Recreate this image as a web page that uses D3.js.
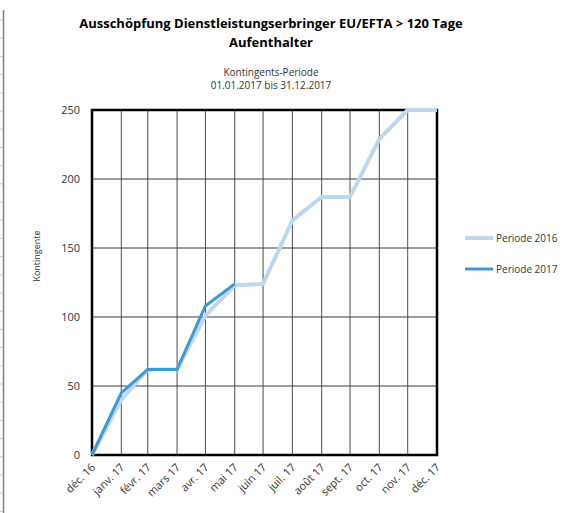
<!DOCTYPE html>
<html>
<head>
<meta charset="utf-8">
<script src="https://cdn.jsdelivr.net/npm/d3@7"></script>
<style>
  body { margin: 0; background: #fff; }
  text { font-family: "Open Sans", "Noto Sans", sans-serif; }
</style>
</head>
<body>
<script>
// month-end dates, déc. 16 .. déc. 17
const months = ["2016-12-31", "2017-01-31", "2017-02-28", "2017-03-31", "2017-04-30", "2017-05-31",
    "2017-06-30", "2017-07-31", "2017-08-31", "2017-09-30", "2017-10-31", "2017-11-30", "2017-12-31"];
const monthLabels = ["déc. 16", "janv. 17", "févr. 17", "mars 17", "avr. 17", "mai 17", "juin 17",
    "juil. 17", "août 17", "sept. 17", "oct. 17", "nov. 17", "déc. 17"];
const periode2016 = [0, 40, 62, 62, 101, 123, 124, 170, 187, 187, 229, 250, 250];
const periode2017 = [0, 45, 62, 62, 108, 124];
const yTicks = [0, 50, 100, 150, 200, 250];
const seriesNames = ["Periode 2016", "Periode 2017"];
const seriesColors = ["#bdd7ee", "#3c99d8"];

const width = 586, height = 513;
const parse = d3.timeParse("%Y-%m-%d");
const dates = months.map(parse);

const svg = d3.select("body").append("svg")
    .attr("width", width)
    .attr("height", height);

// left frame edge of the screenshot
svg.append("line")
    .attr("x1", 3.5).attr("x2", 3.5)
    .attr("y1", 10).attr("y2", height)
    .attr("stroke", "#808080").attr("stroke-width", 1.5);
svg.selectAll(".edge-tick")
    .data(d3.range(20, height, 18.2))
    .enter().append("line")
    .attr("x1", 0).attr("x2", 3)
    .attr("y1", d => d).attr("y2", d => d)
    .attr("stroke", "#c8c8c8");

const x = d3.scaleTime()
    .domain(d3.extent(dates))
    .range([92, 437]);

const y = d3.scaleLinear()
    .domain([0, 250])
    .range([455, 110]);

// titles
svg.append("text")
    .attr("x", 271).attr("y", 28)
    .attr("text-anchor", "middle")
    .style("font-size", "13px").style("font-weight", "bold").style("fill", "#000")
    .text("Ausschöpfung Dienstleistungserbringer EU/EFTA > 120 Tage");
svg.append("text")
    .attr("x", 271).attr("y", 47)
    .attr("text-anchor", "middle")
    .style("font-size", "13px").style("font-weight", "bold").style("fill", "#000")
    .text("Aufenthalter");
svg.append("text")
    .attr("x", 271).attr("y", 76)
    .attr("text-anchor", "middle")
    .style("font-size", "10px").style("fill", "#333")
    .text("Kontingents-Periode");
svg.append("text")
    .attr("x", 271).attr("y", 89)
    .attr("text-anchor", "middle")
    .style("font-size", "10px").style("fill", "#333")
    .text("01.01.2017 bis 31.12.2017");

// grid
svg.append("g")
    .selectAll("line")
    .data(yTicks)
    .enter().append("line")
    .attr("x1", x.range()[0]).attr("x2", x.range()[1])
    .attr("y1", d => y(d)).attr("y2", d => y(d))
    .attr("stroke", "#3a3a3a").attr("stroke-width", 1);

svg.append("g")
    .selectAll("line")
    .data(dates)
    .enter().append("line")
    .attr("x1", d => x(d)).attr("x2", d => x(d))
    .attr("y1", y(0)).attr("y2", y(250))
    .attr("stroke", "#4a4a4a").attr("stroke-width", 1);

// y tick labels
svg.append("g")
    .selectAll("text")
    .data(yTicks)
    .enter().append("text")
    .attr("x", 80)
    .attr("y", d => y(d))
    .attr("dy", "0.35em")
    .attr("text-anchor", "end")
    .style("font-size", "11px").style("fill", "#333")
    .text(d => d);

// x tick labels
svg.append("g")
    .selectAll("text")
    .data(dates)
    .enter().append("text")
    .attr("transform", d => `translate(${x(d) + 4},${y(0) + 13}) rotate(-45)`)
    .attr("text-anchor", "end")
    .style("font-size", "11px").style("fill", "#333")
    .text((d, i) => monthLabels[i]);

// y axis title
svg.append("text")
    .attr("transform", "translate(40,256) rotate(-90)")
    .attr("text-anchor", "middle")
    .style("font-size", "9px").style("fill", "#333")
    .text("Kontingente");

// frame
svg.append("rect")
    .attr("x", x.range()[0]).attr("y", y(250))
    .attr("width", x.range()[1] - x.range()[0])
    .attr("height", y(0) - y(250))
    .attr("fill", "none")
    .attr("stroke", "#000").attr("stroke-width", 2.5);

// lines
const line = d3.line()
    .x((d, i) => x(dates[i]))
    .y(d => y(d));

svg.append("path")
    .datum(periode2016)
    .attr("d", line)
    .attr("fill", "none")
    .attr("stroke", seriesColors[0])
    .attr("stroke-width", 4)
    .attr("stroke-linejoin", "round");

svg.append("path")
    .datum(periode2017)
    .attr("d", line)
    .attr("fill", "none")
    .attr("stroke", seriesColors[1])
    .attr("stroke-width", 3)
    .attr("stroke-linejoin", "round");

// legend
const legend = svg.append("g")
    .selectAll("g")
    .data(seriesNames)
    .enter().append("g")
    .attr("transform", (d, i) => `translate(465,${238 + i * 31})`);

legend.append("line")
    .attr("x1", 0).attr("x2", 28)
    .attr("stroke", (d, i) => seriesColors[i])
    .attr("stroke-width", (d, i) => i === 0 ? 4 : 3);

legend.append("text")
    .attr("x", 31)
    .attr("dy", "0.35em")
    .style("font-size", "10px").style("fill", "#333")
    .text(d => d);
</script>
</body>
</html>
